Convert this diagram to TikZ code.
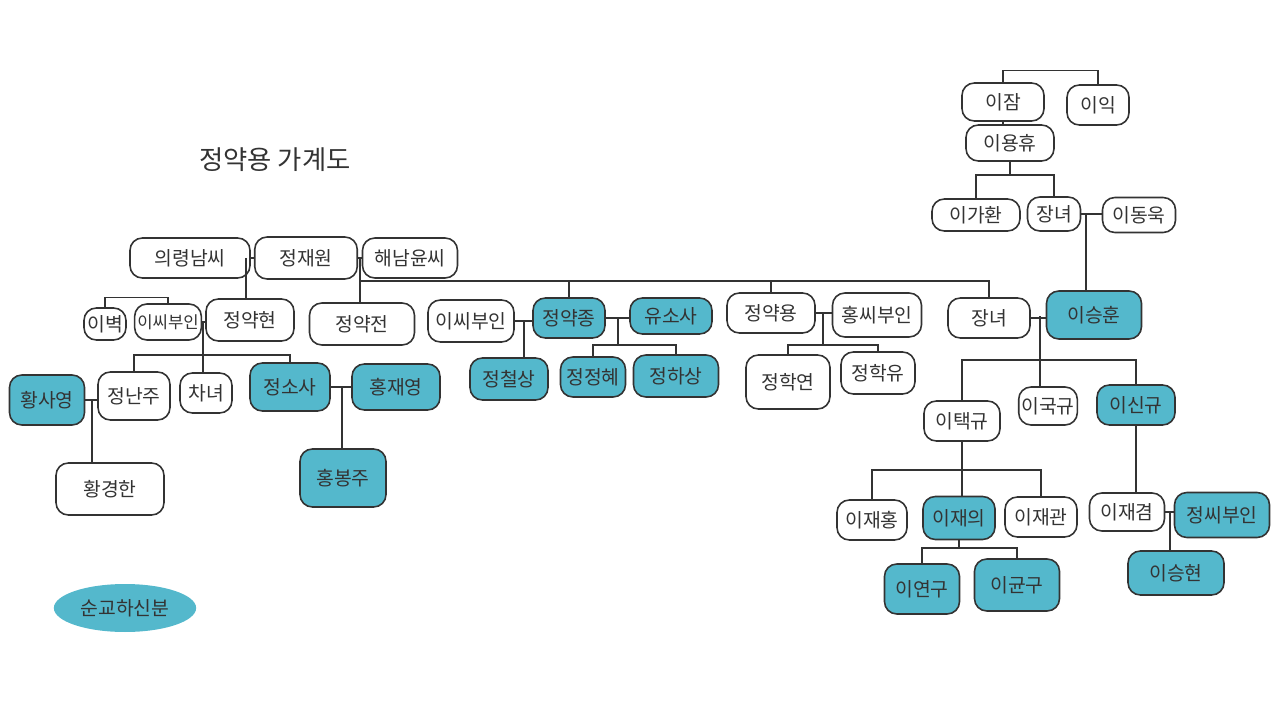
\documentclass[tikz,border=0pt]{standalone}
\usepackage{xcolor}
\usepackage{fontspec}
\setmainfont{Noto Sans CJK KR}
\usepackage{tikz}
\usetikzlibrary{shapes.geometric}

\definecolor{ink}{HTML}{333333}
\definecolor{martyrblue}{RGB}{84,184,204}

\begin{document}
\begin{tikzpicture}[
    x=0.02cm, y=-0.02cm,
    person/.style={draw=ink, line width=0.9pt, rounded corners=7pt, minimum height=0.8cm, inner sep=1.5pt, font=\fontsize{11}{13}\selectfont, text=ink},
    martyr/.style={person, fill=martyrblue},
    tight/.style={font=\fontsize{9.5}{11}\selectfont},
    heading/.style={font=\fontsize{15}{18}\selectfont, text=ink},
    link/.style={draw=ink, line width=0.8pt}
]
\useasboundingbox (0,0) rectangle (1280,702);

\node[heading] (heading) at (275,160) {정약용 가계도};

% first generation
\node[person, minimum width=2.4cm] (uiryeong) at (190,258) {의령남씨};
\node[person, minimum width=2.05cm, minimum height=0.84cm] (jaewon) at (306,258) {정재원};
\node[person, minimum width=1.9cm] (haenam) at (410,258) {해남윤씨};

% second generation
\node[person, minimum width=0.84cm, minimum height=0.64cm] (ibyeok) at (105,324) {이벽};
\node[person, tight, minimum width=1.3cm, minimum height=0.72cm] (issi1) at (168,322) {이씨부인};
\node[person, minimum width=1.76cm, minimum height=0.84cm] (yakhyeon) at (250,320) {정약현};
\node[person, minimum width=2.1cm, minimum height=0.84cm] (yakjeon) at (362,324) {정약전};
\node[person, minimum width=1.72cm, minimum height=0.84cm] (issi2) at (471,321) {이씨부인};
\node[martyr, minimum width=1.44cm] (yakjong) at (569,318) {정약종};
\node[martyr, minimum width=1.64cm, minimum height=0.72cm] (yusosa) at (671,316) {유소사};
\node[person, minimum width=1.76cm] (yakyong) at (771,313) {정약용};
\node[person, minimum width=1.78cm, minimum height=0.88cm] (hongssi) at (877,315) {홍씨부인};
\node[person, minimum width=1.64cm] (jangnyeo2) at (989,318) {장녀};
\node[martyr, minimum width=1.9cm, minimum height=0.96cm] (seunghun) at (1094,315) {이승훈};

% third generation
\node[martyr, minimum width=1.5cm, minimum height=1.0cm] (hwang) at (47,400) {황사영};
\node[person, minimum width=1.44cm, minimum height=0.96cm] (nanju) at (134,396) {정난주};
\node[person, minimum width=1.04cm] (chanyeo) at (206,393) {차녀};
\node[martyr, minimum width=1.6cm, minimum height=0.96cm] (sosa) at (290,387) {정소사};
\node[martyr, minimum width=1.76cm, minimum height=0.92cm] (jaeyeong) at (396,387) {홍재영};
\node[person, minimum width=2.16cm, minimum height=1.04cm] (gyeonghan) at (110,489) {황경한};
\node[martyr, minimum width=1.72cm, minimum height=1.16cm] (bongju) at (343,478) {홍봉주};
\node[martyr, minimum width=1.56cm, minimum height=0.84cm] (cheolsang) at (509,379) {정철상};
\node[martyr, minimum width=1.3cm] (jeonghye) at (593,377) {정정혜};
\node[martyr, minimum width=1.7cm, minimum height=0.84cm] (hasang) at (676,376) {정하상};
\node[person, minimum width=1.68cm, minimum height=1.08cm] (haggyeon) at (788,382) {정학연};
\node[person, minimum width=1.48cm, minimum height=0.84cm] (hagyu) at (878,373) {정학유};

% Lee family, top right
\node[person, minimum width=1.64cm, minimum height=0.76cm] (ijam) at (1003,102) {이잠};
\node[person, minimum width=1.24cm] (iik) at (1098,105) {이익};
\node[person, minimum width=1.76cm, minimum height=0.72cm] (yonghyu) at (1010,143) {이용휴};
\node[person, minimum width=1.76cm, minimum height=0.64cm] (gahwan) at (976,215) {이가환};
\node[person, minimum width=1.06cm, minimum height=0.68cm] (jangnyeo1) at (1054,214) {장녀};
\node[person, minimum width=1.46cm, minimum height=0.7cm] (dongwook) at (1139,215) {이동욱};

% Lee family, below 이승훈
\node[person, minimum width=1.52cm] (taekgyu) at (962,421) {이택규};
\node[person, minimum width=1.16cm, minimum height=0.76cm] (gukgyu) at (1048,406) {이국규};
\node[martyr, minimum width=1.56cm] (singyu) at (1136,405) {이신규};
\node[person, minimum width=1.4cm] (jaehong) at (872,520) {이재홍};
\node[martyr, minimum width=1.44cm, minimum height=0.86cm] (jaeui) at (959,518) {이재의};
\node[person, minimum width=1.44cm] (jaegwan) at (1041,517) {이재관};
\node[person, minimum width=1.5cm, minimum height=0.76cm] (jaegyeom) at (1127,512) {이재겸};
\node[martyr, minimum width=1.9cm, minimum height=0.9cm] (jeongssi) at (1222,515) {정씨부인};
\node[martyr, minimum width=1.5cm, minimum height=1.0cm] (yeongu) at (922,589) {이연구};
\node[martyr, minimum width=1.7cm, minimum height=1.04cm] (gyungu) at (1017,585) {이균구};
\node[martyr, minimum width=1.92cm, minimum height=0.88cm] (seunghyeon) at (1176,573) {이승현};

% legend
\node[ellipse, fill=martyrblue, text=ink, font=\fontsize{11}{13}\selectfont, minimum width=2.7cm, minimum height=0.96cm] (legend) at (125,608) {순교하신분};

% connectors
\draw[link] (uiryeong.east) -- (jaewon.west);
\coordinate (mNam) at (246,258);
\draw[link] (mNam) -- (mNam |- yakhyeon.north);
\draw[link] (jaewon.east) -- (haenam.west);
\coordinate (mYun) at (360,258);
\coordinate (barYun) at (360,281);
\draw[link] (mYun) -- (mYun |- yakjeon.north);
\draw[link] (barYun) -| (jangnyeo2.north);
\draw[link] (yakjong.north) -- (yakjong.north |- barYun);
\draw[link] (yakyong.north) -- (yakyong.north |- barYun);

\draw[link] (ibyeok.north) -- ++(0,-10) -| (issi1.north);
\draw[link] (issi1.east) -- (issi1.east -| yakhyeon.west);
\coordinate (mHyeon) at (203,322);
\coordinate (barHyeon) at (203,355);
\draw[link] (mHyeon) -- (mHyeon |- chanyeo.north);
\draw[link] (nanju.north) |- (barHyeon) -| (sosa.north);
\draw[link] (hwang.east) -- (hwang.east -| nanju.west);
\coordinate (mHwang) at (92,400);
\draw[link] (mHwang) -- (mHwang |- gyeonghan.north);
\draw[link] (sosa.east) -- (jaeyeong.west);
\coordinate (mHong) at (342,387);
\draw[link] (mHong) -- (mHong |- bongju.north);

\draw[link] (issi2.east) -- (issi2.east -| yakjong.west);
\coordinate (mJong1) at (524,321);
\draw[link] (mJong1) -- (mJong1 |- cheolsang.north);
\draw[link] (yakjong.east) -- (yakjong.east -| yusosa.west);
\coordinate (mJong2) at (618,318);
\coordinate (barJong) at (618,345);
\draw[link] (mJong2) -- (barJong);
\draw[link] (jeonghye.north) |- (barJong) -| (hasang.north);

\draw[link] (yakyong.east) -- (yakyong.east -| hongssi.west);
\coordinate (mYong) at (823,313);
\coordinate (barYong) at (823,345);
\draw[link] (mYong) -- (barYong);
\draw[link] (haggyeon.north) |- (barYong) -| (hagyu.north);

\draw[link] (ijam.north) -- ++(0,-12) -| (iik.north);
\draw[link] (ijam.south) -- (ijam.south |- yonghyu.north);
\coordinate (barLee) at (1010,175);
\draw[link] (yonghyu.south) -- (barLee);
\draw[link] (gahwan.north) |- (barLee) -| (jangnyeo1.north);
\draw[link] (jangnyeo1.east) -- (jangnyeo1.east -| dongwook.west);
\coordinate (mDong) at (1086,214);
\draw[link] (mDong) -- (mDong |- seunghun.north);

\draw[link] (jangnyeo2.east) -- (jangnyeo2.east -| seunghun.west);
\coordinate (mHun) at (1040,316);
\coordinate (barHun) at (1040,360);
\draw[link] (mHun) -- (mHun |- gukgyu.north);
\draw[link] (taekgyu.north) |- (barHun) -| (singyu.north);

\coordinate (barTaek) at (962,470);
\draw[link] (taekgyu.south) -- (barTaek);
\draw[link] (jaehong.north) |- (barTaek) -| (jaegwan.north);
\draw[link] (barTaek) -- (barTaek |- jaeui.north);
\coordinate (barUi) at (959,548);
\draw[link] (jaeui.south) -- (barUi);
\draw[link] (yeongu.north) |- (barUi) -| (gyungu.north);

\draw[link] (singyu.south) -- (singyu.south |- jaegyeom.north);
\draw[link] (jaegyeom.east) -- (jaegyeom.east -| jeongssi.west);
\coordinate (mGyeom) at (1170,512);
\draw[link] (mGyeom) -- (mGyeom |- seunghyeon.north);
\end{tikzpicture}
\end{document}
